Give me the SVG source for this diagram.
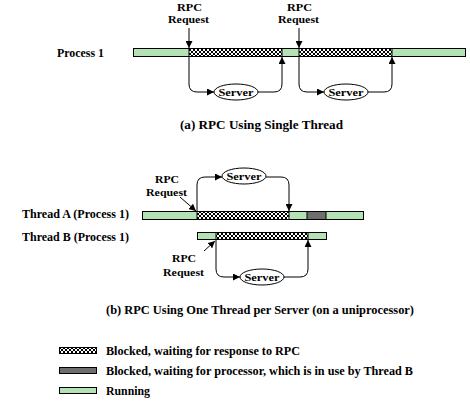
<svg xmlns="http://www.w3.org/2000/svg" width="470" height="404" viewBox="0 0 470 404">
<defs>
<pattern id="hatch" width="4" height="4" patternUnits="userSpaceOnUse">
<rect width="4" height="4" fill="#fff"/>
<path d="M0,0 L4,4 M4,0 L0,4" stroke="#000" stroke-width="1"/>
</pattern>
<marker id="arr" viewBox="0 0 10 10" refX="10" refY="5" markerWidth="7" markerHeight="7" markerUnits="userSpaceOnUse" orient="auto">
<path d="M0,0 L10,5 L0,10 z" fill="#000"/>
</marker>
</defs>
<style>
text{font-family:"Liberation Serif","Times New Roman",serif;font-weight:bold;font-size:12px;fill:#000}
text.s{font-size:11px}
.run{fill:#b3e2b5;stroke:#000;stroke-width:1}
.blk{fill:url(#hatch);stroke:#000;stroke-width:1}
.cpu{fill:#6e6e6e;stroke:#000;stroke-width:1}
.ln{fill:none;stroke:#000;stroke-width:1}
.srv{fill:#fff;stroke:#000;stroke-width:1}
</style>
<rect width="470" height="404" fill="#fff"/>

<g id="process1">
<text x="57" y="57" textLength="47" lengthAdjust="spacingAndGlyphs">Process 1</text>
<rect class="run" x="133.5" y="48.5" width="332" height="8"/>
<rect class="blk" x="189" y="48.5" width="93" height="8"/>
<rect class="blk" x="299" y="48.5" width="93" height="8"/>
</g>
<g id="rpc-a1"><text class="s" x="177" y="11" textLength="25" lengthAdjust="spacingAndGlyphs">RPC</text><text class="s" x="168" y="23" textLength="41" lengthAdjust="spacingAndGlyphs">Request</text></g>
<g id="rpc-a2"><text class="s" x="287" y="11" textLength="25" lengthAdjust="spacingAndGlyphs">RPC</text><text class="s" x="278" y="23" textLength="41" lengthAdjust="spacingAndGlyphs">Request</text></g>
<g id="server-a1"><ellipse class="srv" cx="236" cy="92" rx="22" ry="8"/><text class="s" x="218.5" y="96" textLength="35" lengthAdjust="spacingAndGlyphs">Server</text></g>
<g id="server-a2"><ellipse class="srv" cx="346" cy="92" rx="22" ry="8"/><text class="s" x="328.5" y="96" textLength="35" lengthAdjust="spacingAndGlyphs">Server</text></g>
<text x="180" y="129" textLength="163" lengthAdjust="spacingAndGlyphs">(a) RPC Using Single Thread</text>

<g id="threadA">
<text x="22" y="218" textLength="107" lengthAdjust="spacingAndGlyphs">Thread A (Process 1)</text>
<rect class="run" x="142.5" y="211.5" width="221" height="8"/>
<rect class="blk" x="197" y="211.5" width="92" height="8"/>
<rect class="cpu" x="307" y="211.5" width="19" height="8"/>
</g>
<g id="threadB">
<text x="22" y="241" textLength="107" lengthAdjust="spacingAndGlyphs">Thread B (Process 1)</text>
<rect class="run" x="197.5" y="232.5" width="129" height="7"/>
<rect class="blk" x="216" y="232.5" width="92" height="7"/>
</g>
<g id="rpc-b1"><text class="s" x="155" y="183" textLength="24" lengthAdjust="spacingAndGlyphs">RPC</text><text class="s" x="146" y="196" textLength="41" lengthAdjust="spacingAndGlyphs">Request</text></g>
<g id="rpc-b2"><text class="s" x="172" y="262" textLength="24" lengthAdjust="spacingAndGlyphs">RPC</text><text class="s" x="163" y="276" textLength="41" lengthAdjust="spacingAndGlyphs">Request</text></g>
<g id="server-b1"><ellipse class="srv" cx="244" cy="176" rx="22" ry="8"/><text class="s" x="226.5" y="180" textLength="35" lengthAdjust="spacingAndGlyphs">Server</text></g>
<g id="server-b2"><ellipse class="srv" cx="262" cy="277" rx="22" ry="8"/><text class="s" x="244.5" y="281" textLength="35" lengthAdjust="spacingAndGlyphs">Server</text></g>
<text x="106" y="314" textLength="308" lengthAdjust="spacingAndGlyphs">(b) RPC Using One Thread per Server (on a uniprocessor)</text>

<g id="connectors">
<path class="ln" d="M189,28 V48" marker-end="url(#arr)"/>
<path class="ln" d="M299,28 V48" marker-end="url(#arr)"/>
<path class="ln" d="M189,57 V84 Q189,92 197,92 H214" marker-end="url(#arr)"/>
<path class="ln" d="M258,92 H274 Q282,92 282,84 V57" marker-end="url(#arr)"/>
<path class="ln" d="M299,57 V84 Q299,92 307,92 H324" marker-end="url(#arr)"/>
<path class="ln" d="M368,92 H384 Q392,92 392,84 V57" marker-end="url(#arr)"/>
<path class="ln" d="M197,211 V185 Q197,177 205,177 H222" marker-end="url(#arr)"/>
<path class="ln" d="M266,177 H281 Q289,177 289,185 V211" marker-end="url(#arr)"/>
<path class="ln" d="M216,240 V269 Q216,277 224,277 H240" marker-end="url(#arr)"/>
<path class="ln" d="M284,277 H300 Q308,277 308,269 V240" marker-end="url(#arr)"/>
<path class="ln" d="M180,197 L196,211" marker-end="url(#arr)"/>
<path class="ln" d="M204,251 L215,241" marker-end="url(#arr)"/>
</g>

<g id="legend">
<rect class="blk" x="59.5" y="347.5" width="37" height="6"/>
<text x="106" y="355" textLength="194" lengthAdjust="spacingAndGlyphs">Blocked, waiting for response to RPC</text>
<rect class="cpu" x="59.5" y="367.5" width="37" height="6"/>
<text x="106" y="375" textLength="307" lengthAdjust="spacingAndGlyphs">Blocked, waiting for processor, which is in use by Thread B</text>
<rect class="run" x="59.5" y="387.5" width="37" height="6"/>
<text x="106" y="395" textLength="44" lengthAdjust="spacingAndGlyphs">Running</text>
</g>
</svg>
